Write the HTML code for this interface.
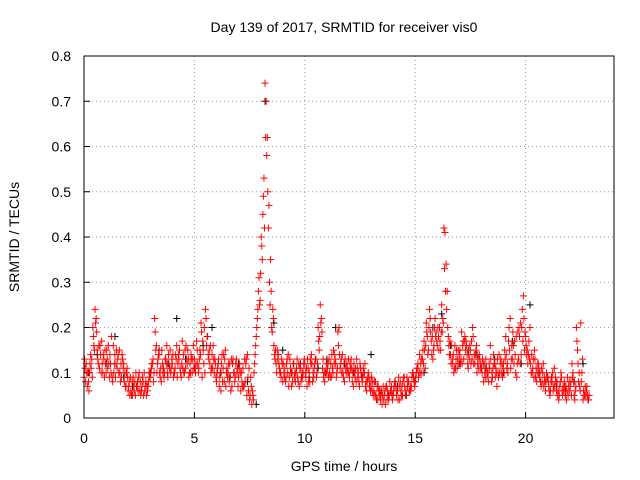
<!DOCTYPE html>
<html><head><meta charset="utf-8"><style>
body{margin:0;background:#fff}
svg{display:block;font-family:"Liberation Sans",sans-serif}
</style></head><body>
<svg id="chart" width="640" height="480" viewBox="0 0 640 480">
<rect width="640" height="480" fill="#fff"/>
<text x="344" y="32" font-size="14" text-anchor="middle">Day 139 of 2017, SRMTID for receiver vis0</text>
<text transform="translate(19,237) rotate(-90)" font-size="14" text-anchor="middle">SRMTID / TECUs</text>
<text x="344" y="471" font-size="14" text-anchor="middle">GPS time / hours</text>
<g id="grid"></g>
<g id="ticks"></g>
<g id="black"></g>
<g id="red"></g>
<rect x="84" y="56" width="530" height="362" fill="none" stroke="#000" stroke-width="1"/>
</svg>
<script>
const xTicks=[0,5,10,15,20];
const yTicks=[0,0.1,0.2,0.3,0.4,0.5,0.6,0.7,0.8];
const yTickLabels=["0","0.1","0.2","0.3","0.4","0.5","0.6","0.7","0.8"];
const redA=[.09,.12,.08,.14,.2,.24,.15,.11,.17,.13,.1,.16,.12,.08,.14,.11,.15,.09,.12,.07,.06,.09,.05,.08,.07,.1,.06,.05,.08,.07,.09,.12,.22,.1,.14,.08,.11,.13,.09,.15,.12,.1,.16,.13,.09,.14,.11,.15,.12,.1,.13,.17,.11,.21,.15,.24,.18,.12,.14,.1,.08,.13,.06,.11,.15,.09,.12,.07,.1,.13,.09,.06,.11,.08,.14,.04,.03,.1,.18,.28,.32,.45,.74,.62,.3,.2,.16,.12,.14,.1,.08,.11,.13,.09,.07,.12,.1,.08,.11,.09,.12,.07,.1,.14,.09,.13,.2,.25,.11,.08,.1,.13,.09,.15,.12,.19,.11,.14,.08,.12,.1,.13,.07,.11,.09,.12,.08,.1,.06,.09,.07,.05,.08,.04,.06,.03,.05,.07,.04,.06,.05,.08,.06,.04,.07,.09,.05,.08,.06,.1,.08,.11,.14,.1,.17,.21,.15,.19,.13,.22,.16,.2,.25,.42,.34,.18,.14,.12,.16,.11,.14,.19,.13,.17,.11,.15,.2,.12,.1,.14,.11,.08,.13,.1,.16,.09,.12,.07,.14,.1,.12,.18,.1,.22,.13,.17,.09,.2,.14,.27,.18,.12,.2,.1,.15,.08,.11,.07,.12,.06,.09,.05,.08,.11,.06,.04,.1,.07,.05,.09,.06,.12,.05,.2,.08,.21,.04,.07,.05];
const redB=[.11,.07,.1,.13,.16,.22,.12,.14,.1,.15,.13,.09,.18,.1,.12,.14,.08,.13,.1,.11,.08,.05,.07,.1,.06,.08,.09,.06,.07,.1,.11,.08,.15,.13,.09,.12,.1,.16,.12,.11,.09,.14,.12,.11,.17,.1,.13,.09,.14,.16,.1,.12,.15,.09,.2,.16,.13,.1,.16,.12,.11,.09,.14,.08,.1,.12,.06,.13,.09,.11,.12,.08,.07,.13,.06,.09,.05,.14,.22,.25,.38,.53,.7,.42,.35,.24,.13,.15,.11,.13,.1,.09,.14,.11,.08,.1,.13,.07,.09,.12,.09,.11,.13,.08,.12,.1,.15,.22,.09,.1,.12,.09,.11,.14,.1,.2,.13,.09,.11,.1,.12,.08,.1,.13,.08,.1,.11,.07,.09,.08,.06,.08,.04,.06,.05,.07,.03,.06,.08,.05,.07,.05,.09,.06,.08,.05,.07,.06,.09,.08,.1,.09,.12,.15,.11,.18,.24,.14,.16,.19,.18,.15,.22,.41,.28,.14,.16,.1,.13,.15,.12,.16,.18,.14,.13,.17,.12,.15,.13,.11,.13,.1,.09,.12,.08,.14,.11,.1,.12,.09,.15,.11,.2,.13,.16,.1,.19,.12,.24,.15,.14,.17,.1,.13,.09,.12,.1,.08,.09,.1,.07,.08,.06,.09,.05,.07,.06,.08,.04,.07,.08,.1,.06,.15,.07,.1,.05,.06,.04];
const redC=[.13,.1,.06,.11,.18,.21,.13,.16,.12,.09,.15,.12,.1,.16,.09,.13,.1,.14,.08,.1,.07,.06,.09,.05,.08,.06,.07,.1,.05,.08,.1,.13,.19,.12,.1,.15,.09,.12,.14,.1,.14,.11,.09,.15,.12,.1,.16,.13,.1,.13,.11,.15,.13,.19,.12,.22,.14,.16,.11,.13,.1,.07,.12,.14,.07,.1,.09,.12,.08,.1,.11,.1,.07,.12,.09,.05,.06,.12,.2,.31,.4,.49,.62,.5,.25,.19,.14,.1,.12,.09,.12,.08,.1,.13,.1,.09,.11,.12,.08,.1,.1,.13,.08,.12,.11,.09,.17,.21,.13,.1,.11,.1,.14,.12,.09,.16,.12,.1,.13,.11,.09,.11,.12,.08,.1,.11,.09,.12,.08,.07,.09,.06,.05,.07,.04,.05,.06,.04,.05,.07,.06,.07,.04,.08,.05,.07,.09,.06,.07,.09,.09,.12,.1,.13,.15,.19,.2,.17,.15,.18,.2,.17,.19,.33,.24,.16,.12,.14,.11,.13,.15,.12,.17,.16,.14,.12,.18,.14,.12,.13,.1,.12,.11,.08,.13,.11,.09,.13,.1,.12,.1,.14,.17,.11,.19,.14,.12,.18,.2,.22,.16,.14,.12,.11,.13,.1,.09,.11,.07,.08,.08,.06,.1,.07,.08,.05,.09,.06,.07,.05,.07,.09,.04,.17,.1,.08,.06,.05,.04];
const redD=[.08,.1,.12,.09,.15,.19,.16,.1,.14,.12,.11,.14,.09,.12,.15,.1,.12,.11,.07,.09,.05,.08,.06,.07,.09,.05,.08,.07,.06,.09,.12,.1,.16,.14,.11,.1,.13,.1,.11,.13,.1,.13,.14,.1,.11,.15,.12,.1,.13,.11,.12,.1,.14,.17,.1,.18,.15,.11,.13,.09,.12,.1,.08,.13,.11,.08,.13,.1,.12,.07,.1,.07,.13,.05,.11,.07,.04,.16,.24,.26,.35,.42,.58,.47,.28,.22,.15,.13,.1,.12,.09,.12,.07,.1,.12,.08,.09,.11,.1,.13,.11,.08,.12,.1,.13,.12,.18,.19,.1,.12,.09,.12,.1,.13,.11,.14,.1,.12,.1,.13,.11,.1,.09,.11,.07,.09,.1,.08,.1,.06,.08,.05,.07,.05,.06,.04,.07,.05,.06,.04,.08,.06,.07,.05,.09,.06,.08,.07,.1,.07,.11,.1,.13,.12,.16,.14,.22,.18,.2,.17,.15,.19,.21,.28,.2,.17,.13,.11,.15,.12,.13,.17,.15,.12,.16,.13,.14,.16,.11,.12,.12,.09,.1,.11,.1,.12,.1,.09,.13,.11,.13,.12,.15,.16,.12,.18,.13,.21,.17,.19,.15,.13,.14,.09,.11,.12,.08,.1,.08,.09,.06,.09,.07,.08,.06,.08,.05,.07,.06,.08,.05,.08,.07,.12,.06,.13,.05,.07,.05];
const blackVals=[.1,.14,.12,.18,.09,.07,.06,.1,.15,.12,.22,.13,.11,.16,.2,.1,.09,.12,.08,.03,.7,.21,.15,.1,.12,.09,.11,.13,.2,.12,.1,.09,.14,.06,.05,.07,.05,.08,.1,.2,.23,.16,.12,.15,.14,.11,.13,.1,.17,.12,.25,.1,.09,.07,.06,.08,.12];
const redAStart=0,redBStart=0.05,redCStart=0.025,redDStart=0.075,redStep=0.1,blackStart=0.2,blackStep=0.4;
const X=h=>84+h*22.08, Y=v=>418-v*452.5;
const NS="http://www.w3.org/2000/svg";
const grid=document.getElementById('grid'),ticks=document.getElementById('ticks');
function mk(tag,attrs,parent){const e=document.createElementNS(NS,tag);for(const k in attrs)e.setAttribute(k,attrs[k]);parent.appendChild(e);return e;}
xTicks.forEach(t=>{const x=X(t);
 if(t>0){const g=mk('line',{x1:x,x2:x,y1:56,y2:418,stroke:'#999','stroke-dasharray':'1,3'},grid);}
 const tk=mk('line',{x1:x,x2:x,y1:418,y2:412,stroke:'#000'},ticks);
 const tx=mk('text',{x:x,y:443,'font-size':14,'text-anchor':'middle'},ticks);tx.textContent=t;});
yTicks.forEach((t,i)=>{const y=Y(t);
 if(i>0&&i<yTicks.length-1){const g=mk('line',{x1:84,x2:614,y1:y,y2:y,stroke:'#999','stroke-dasharray':'1,3'},grid);}
 const tk=mk('line',{x1:84,x2:90,y1:y,y2:y,stroke:'#000'},ticks);
 const tx=mk('text',{x:71,y:y+5,'font-size':14,'text-anchor':'end'},ticks);tx.textContent=yTickLabels[i];});
function plus(parent,h,v,color){const x=X(h),y=Y(v);
 const p=mk('path',{d:`M${x-3.5},${y}h7M${x},${y-3.5}v7`,stroke:color,'stroke-width':1,fill:'none'},parent);
 
 }
const bk=document.getElementById('black'),rd=document.getElementById('red');
blackVals.forEach((v,i)=>plus(bk,blackStart+i*blackStep,v,'#000'));
redA.forEach((v,i)=>plus(rd,redAStart+i*redStep,v,'#f00'));
redB.forEach((v,i)=>plus(rd,redBStart+i*redStep,v,'#f00'));
redC.forEach((v,i)=>plus(rd,redCStart+i*redStep,v,'#f00'));
redD.forEach((v,i)=>plus(rd,redDStart+i*redStep,v,'#f00'));
</script>
</body></html>
